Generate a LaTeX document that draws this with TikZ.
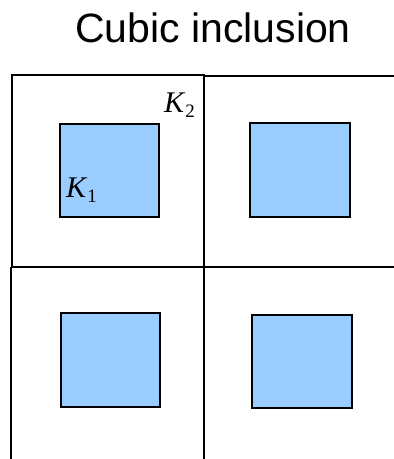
\documentclass[tikz,border=0pt]{standalone}
\usepackage{fontspec}
\setmainfont{Liberation Sans}
\newfontfamily\kfont{Liberation Serif}
\usepackage{tikz}
\usetikzlibrary{
	positioning,
	calc
}
\usepackage{xcolor}
\definecolor{inclblue}{HTML}{99CCFF}

\tikzset{
	cell/.style={line width=2.6pt},
	grid/.style={line width=2pt},
	incl/.style={draw, fill=inclblue, line width=1.6pt},
	klabel/.style={inner sep=0pt, font=\kfont\fontsize{30}{30}\selectfont}
}
\newcommand{\kname}[1]{\textit{K}\raisebox{-0.4ex}{\fontsize{19}{19}\selectfont #1}}

\begin{document}
\begin{tikzpicture}[x=1pt,y=-1pt]
		
		\useasboundingbox (0,0) rectangle (394,459);
		
		\node[font=\fontsize{41}{41}\selectfont, anchor=base] (title) at (213,42) {Cubic inclusion};
		
		\coordinate (tl) at (12,75);
		\coordinate (mid) at (204,267);
		
		\draw[grid] (mid|-tl) ++(0,1) -- (394,76);
		\draw[grid] (mid) -- (394,267);
		\draw[grid] (mid) -- (204,459);
		\draw[grid] (11,267) -- (11,459);
		\draw[cell] (tl) rectangle (mid);
		
		\draw[incl] (60,124) rectangle (159,217);
		\draw[incl] (250,123) rectangle (350,217);
		\draw[incl] (61,313) rectangle (160,407);
		\draw[incl] (252,315) rectangle (352,408);
		
		\node[klabel, anchor=base west] (k2) at (164,112) {\kname{2}};
		\node[klabel, anchor=base west] (k1) at (66,197) {\kname{1}};
		
	\end{tikzpicture}
\end{document}
